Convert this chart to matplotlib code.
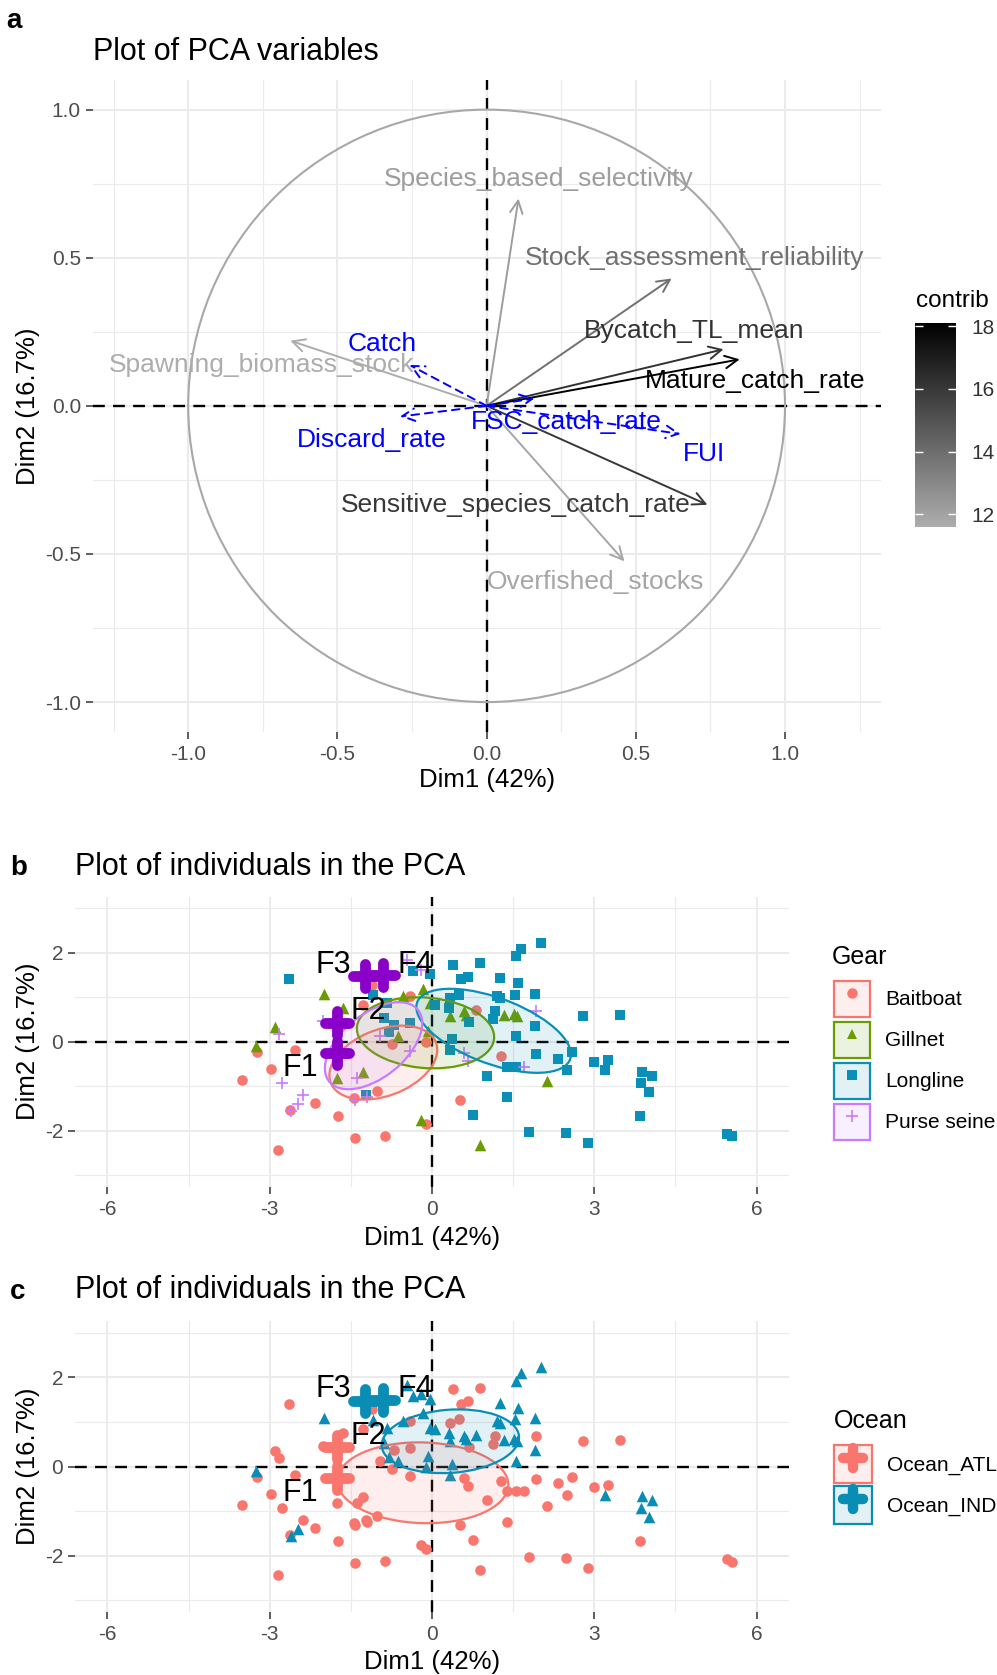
import numpy as np
import matplotlib
matplotlib.use("Agg")
import matplotlib.pyplot as plt
from matplotlib.patches import Ellipse, FancyArrowPatch, Patch, Circle
from matplotlib.lines import Line2D
from matplotlib.markers import MarkerStyle
from matplotlib.colors import LinearSegmentedColormap, Normalize, to_rgba
from matplotlib.legend_handler import HandlerTuple
from matplotlib.cm import ScalarMappable

plt.rcParams['font.family'] = ['Liberation Sans', 'DejaVu Sans']
plt.rcParams['axes.unicode_minus'] = False

# ---------------- panel a: variables ----------------
var_names = ["Species_based_selectivity", "Stock_assessment_reliability", "Bycatch_TL_mean",
             "Mature_catch_rate", "Spawning_biomass_stock", "Sensitive_species_catch_rate",
             "Overfished_stocks"]
var_dim1 = [0.107, 0.62, 0.794, 0.848, -0.658, 0.74, 0.462]
var_dim2 = [0.70, 0.43, 0.191, 0.157, 0.22, -0.334, -0.525]
var_contrib = [12.2, 13.9, 16.2, 18.1, 11.6, 16.0, 11.9]

sup_names = ["Catch", "Discard_rate", "FSC_catch_rate", "FUI"]
sup_dim1 = [-0.258, -0.29, 0.16, 0.65]
sup_dim2 = [0.138, -0.036, 0.025, -0.095]

# where the (repelled) labels sit
var_label_xy = [(0.176, 0.767), (0.696, 0.50), (0.696, 0.252), (0.90, 0.083),
                (-0.755, 0.137), (0.098, -0.335), (0.366, -0.595)]
sup_label_xy = [(-0.35, 0.21), (-0.386, -0.116), (0.266, -0.054), (0.73, -0.162)]

# ---------------- panels b, c: individuals ----------------
bb_x = [-3.24, -2.53, -2.98, -3.52, -2.16, -2.62, -1.73, -2.84, -1.42, -0.86, -1.45,
        -1.02, -1.28, -1.11, -0.40, -0.74, -0.11, 0.82, 1.28, 0.52, -0.12]
bb_y = [-0.24, -0.18, -0.62, -0.86, -1.38, -1.53, -1.67, -2.43, -2.17, -2.12, -1.27,
        -1.10, 0.83, 1.28, 1.03, -0.05, -0.01, 0.71, -0.32, -1.32, -1.85]
bb_ocean = "AAAAAAAAAAAAAAAAIIAAA"

gn_x = [-2.00, -2.90, -3.25, -1.76, -1.28, -1.64, -0.54, -0.62, -0.20, -0.16, -0.03,
        0.33, 0.59, 0.62, 1.33, 1.52, 1.57, 2.12, 0.88, -0.08]
gn_y = [1.08, 0.34, -0.09, -0.82, -0.69, 0.76, 1.02, 0.12, -1.76, 1.19, 0.87,
        0.57, 0.68, 0.61, 0.60, 0.62, 0.57, -0.89, -2.32, 0.23]
gn_ocean = "IAIAAAIIAIIIIIIIIAAI"

ll_x = [-2.64, -1.22, -0.35, -1.10, -0.83, -0.89, -0.71, -0.40, -0.80, 2.01,
        1.65, 1.56, 0.39, 0.88, -0.04, 0.54, 0.66, 1.25, 1.59, 0.49,
        0.34, 1.21, 1.26, 1.54, 1.90, 0.06, 0.31, 0.68, 1.17, 1.13,
        1.91, 2.79, 1.56, 0.37, 0.34, 1.93, 1.38, 1.56, 2.33, 2.58,
        2.50, 2.99, 1.01, 1.38, 0.75, 1.79, 2.48, 2.89, 3.47, 3.25,
        3.20, 3.88, 4.07, 3.86, 4.01, 3.84, 5.46, 5.54]
ll_y = [1.41, -1.19, 1.58, 1.05, 0.87, 0.53, 0.38, 0.42, 0.21, 2.22,
        2.09, 1.92, 1.73, 1.76, 1.52, 1.40, 1.46, 1.43, 1.32, 1.06,
        0.98, 1.03, 0.98, 1.06, 1.08, 0.83, 0.76, 0.44, 0.68, 0.50,
        0.36, 0.57, 0.12, 0.05, -0.18, -0.27, -0.56, -0.56, -0.38, -0.23,
        -0.63, -0.46, -0.76, -1.25, -1.64, -2.02, -2.06, -2.28, 0.59, -0.41,
        -0.63, -0.67, -0.76, -0.93, -1.13, -1.66, -2.07, -2.13]
ll_ocean = "AAIIIIAAII" "IIAAIAAIIA" "AIIIIIIAAA" "IAIIIAAAAA" "AAAAAAAAAA" "IIIIIAAA"

ps_x = [-2.82, -2.78, -2.38, -2.47, -2.60, -1.39, -1.43, -1.20, -2.01, -0.46, -0.20,
        -0.40, -0.96, 0.59, 0.66, 1.93, 1.70]
ps_y = [0.18, -0.92, -1.19, -1.40, -1.55, -0.82, -1.32, -1.24, 0.46, 1.83, 1.62,
        -0.22, 0.13, -0.25, -0.44, 0.68, -0.56]
ps_ocean = "AAAIIAAAAIIAAAAAA"

gears = ["Baitboat", "Gillnet", "Longline", "Purse seine"]
oceans = ["Ocean_ATL", "Ocean_IND"]

# supplementary individuals
fleet_names = ["F1", "F2", "F3", "F4"]
fleet_x = [-1.76, -1.76, -1.24, -0.90]
fleet_y = [-0.25, 0.43, 1.47, 1.49]
fleet_ocean = ["Ocean_ATL", "Ocean_ATL", "Ocean_IND", "Ocean_IND"]
fleet_label_xy = [(-2.44, -0.59), (-1.17, 0.68), (-1.82, 1.73), (-0.31, 1.73)]

# confidence ellipses: centre x, centre y, semi-axis a, semi-axis b, angle
gear_ell = {"Baitboat": (-0.90, -0.47, 1.08, 0.72, 31),
            "Gillnet": (-0.12, 0.20, 1.275, 0.79, -7),
            "Longline": (1.14, 0.245, 1.556, 0.718, -26.4),
            "Purse seine": (-1.08, -0.09, 1.16, 0.65, 49.6)}
ocean_ell = {"Ocean_ATL": (-0.17, -0.365, 1.582, 0.904, -2.4),
             "Ocean_IND": (0.34, 0.565, 1.274, 0.707, 5.6)}

# ---------------- styles ----------------
gear_col = {"Baitboat": "#F8766D", "Gillnet": "#6A9C00", "Longline": "#0A8FB8", "Purse seine": "#C77CFF"}
gear_mk = {"Baitboat": "o", "Gillnet": "^", "Longline": "s", "Purse seine": "+"}
gear_s = {"Baitboat": 58, "Gillnet": 70, "Longline": 52, "Purse seine": 80}
ocean_col = {"Ocean_ATL": "#F8766D", "Ocean_IND": "#0A8DB5"}
ocean_mk = {"Ocean_ATL": "o", "Ocean_IND": "^"}
ocean_s = {"Ocean_ATL": 58, "Ocean_IND": 70}
fleet_col_b = "#8A00C8"
GRID = "#EBEBEB"

W, H = 997, 1675
fig = plt.figure(figsize=(W / 100, H / 100), dpi=100)


def px_axes(l, t, r, b):
    return fig.add_axes([l / W, 1 - b / H, (r - l) / W, (b - t) / H])


def fy(y):
    return 1 - y / H


def style_axes(ax, xmaj, xmin, ymaj, ymin, fmt):
    for s in ax.spines.values():
        s.set_visible(False)
    ax.set_xticks(xmaj)
    ax.set_xticks(xmin, minor=True)
    ax.set_yticks(ymaj)
    ax.set_yticks(ymin, minor=True)
    ax.set_xticklabels([fmt(v) for v in xmaj])
    ax.set_yticklabels([fmt(v) for v in ymaj])
    ax.grid(which="major", color=GRID, lw=1.5)
    ax.grid(which="minor", color=GRID, lw=0.8)
    ax.set_axisbelow(True)
    ax.tick_params(which="major", length=5, width=1.1, color="#333333",
                   labelsize=15, labelcolor="#4D4D4D")
    ax.tick_params(axis="x", which="major", pad=4.5)
    ax.tick_params(axis="y", which="major", pad=3.5)
    ax.tick_params(which="minor", length=0)
    ax.axhline(0, color="black", lw=1.7, ls=(0, (5, 3.5)), zorder=2)
    ax.axvline(0, color="black", lw=1.7, ls=(0, (5, 3.5)), zorder=2)


# ================= panel a =================
ax_a = px_axes(92.7, 80, 880.5, 731.7)
ax_a.set_xlim(-1.32, 1.32)
ax_a.set_ylim(-1.1, 1.1)
style_axes(ax_a, [-1, -0.5, 0, 0.5, 1], [-1.25, -0.75, -0.25, 0.25, 0.75, 1.25],
           [-1, -0.5, 0, 0.5, 1], [-0.75, -0.25, 0.25, 0.75], lambda v: "%.1f" % v)
ax_a.add_patch(Circle((0, 0), 1, fill=False, ec="#A8A8A8", lw=1.5, zorder=2.5))

cmap = LinearSegmentedColormap.from_list("contrib", ["#ADADAD", "#000000"])
norm = Normalize(min(var_contrib), max(var_contrib))

for name, x, y, c, (lx, ly) in zip(var_names, var_dim1, var_dim2, var_contrib, var_label_xy):
    col = cmap(norm(c))
    ax_a.add_patch(FancyArrowPatch((0, 0), (x, y), arrowstyle="->,head_length=0.6,head_width=0.3",
                                   mutation_scale=15, lw=1.4, color=col, shrinkA=0, shrinkB=0, zorder=4))
    ax_a.text(lx, ly, name, color=col, fontsize=19, ha="center", va="center", zorder=6)

for name, x, y, (lx, ly) in zip(sup_names, sup_dim1, sup_dim2, sup_label_xy):
    ax_a.add_patch(FancyArrowPatch((0, 0), (x, y), arrowstyle="->,head_length=0.6,head_width=0.3",
                                   mutation_scale=15, lw=1.4, color="#0000FF", ls=(0, (4, 3)),
                                   shrinkA=0, shrinkB=0, zorder=4))
    ax_a.text(lx, ly, name, color="#0000FF", fontsize=19, ha="center", va="center", zorder=6)

fig.text(6 / W, fy(28), "a", fontsize=20, fontweight="bold", va="baseline")
fig.text(93 / W, fy(60), "Plot of PCA variables", fontsize=22, va="baseline")
fig.text(486.6 / W, fy(787), "Dim1 (42%)", fontsize=18.5, ha="center", va="baseline")
fig.text(28 / W, fy(406), "Dim2 (16.7%)", fontsize=18.5, ha="center", va="center", rotation=90)

# colour bar
cax = px_axes(915, 323, 956, 527)
cb = fig.colorbar(ScalarMappable(norm=norm, cmap=cmap), cax=cax, ticks=[12, 14, 16, 18])
cb.outline.set_visible(False)
cax.minorticks_off()
cax.yaxis.set_ticks_position("both")
cax.tick_params(axis="y", direction="in", length=6, width=1, color="white",
                labelsize=15, labelcolor="#333333", pad=11, labelleft=False, labelright=True)
fig.text(916 / W, fy(307), "contrib", fontsize=17.5, va="baseline")

# ================= panels b and c =================
gear_data = {"Baitboat": (bb_x, bb_y, bb_ocean), "Gillnet": (gn_x, gn_y, gn_ocean),
             "Longline": (ll_x, ll_y, ll_ocean), "Purse seine": (ps_x, ps_y, ps_ocean)}


def ind_axes(top, bottom):
    ax = px_axes(75, top, 789, bottom)
    ax.set_xlim(-6.6, 6.6)
    ax.set_ylim(-3.26, 3.26)
    style_axes(ax, [-6, -3, 0, 3, 6], [-4.5, -1.5, 1.5, 4.5], [-2, 0, 2], [-3, -1, 1, 3],
               lambda v: "%d" % v)
    return ax


def draw_fleets(ax, colors):
    cross = MarkerStyle("+", capstyle="round")
    for x, y, c in zip(fleet_x, fleet_y, colors):
        ax.plot([x], [y], ls="", marker=cross, ms=17, mew=7.8, color=c, zorder=5)
    for name, (lx, ly) in zip(fleet_names, fleet_label_xy):
        ax.text(lx, ly, name, fontsize=22, ha="center", va="center", zorder=6)


# ---- panel b: by gear ----
ax_b = ind_axes(896.7, 1186.7)
for g in gears:
    xs, ys, _ = gear_data[g]
    if gear_mk[g] == "+":
        ax_b.scatter(xs, ys, marker="+", s=gear_s[g], color=gear_col[g], linewidths=1.2, zorder=3)
    else:
        ax_b.scatter(xs, ys, marker=gear_mk[g], s=gear_s[g], color=gear_col[g], linewidths=0, zorder=3)
for g in gears:
    cx, cy, a, b, ang = gear_ell[g]
    ax_b.add_patch(Ellipse((cx, cy), 2 * a, 2 * b, angle=ang, fc=to_rgba(gear_col[g], 0.12),
                           ec=gear_col[g], lw=1.6, zorder=4))
draw_fleets(ax_b, [fleet_col_b] * 4)

fig.text(10 / W, fy(875), "b", fontsize=20, fontweight="bold", va="baseline")
fig.text(75 / W, fy(875), "Plot of individuals in the PCA", fontsize=22, va="baseline")
fig.text(432 / W, fy(1245), "Dim1 (42%)", fontsize=18.5, ha="center", va="baseline")
fig.text(28 / W, fy(1041.7), "Dim2 (16.7%)", fontsize=18.5, ha="center", va="center", rotation=90)

handles_b = []
for g in gears:
    box = Patch(fc=to_rgba(gear_col[g], 0.12), ec=gear_col[g], lw=1.6)
    mk = Line2D([], [], ls="", marker=gear_mk[g], color=gear_col[g],
                ms=7.5 if gear_mk[g] != "+" else 9, mew=0 if gear_mk[g] != "+" else 1.2)
    handles_b.append((box, mk))
ax_b.legend(handles_b, gears, loc="upper left", bbox_to_anchor=(834 / W, fy(981)),
            bbox_transform=fig.transFigure, frameon=False, fontsize=15,
            handlelength=1.73, handleheight=2.286, labelspacing=0.23, handletextpad=0.72,
            borderpad=0, borderaxespad=0, handler_map={tuple: HandlerTuple(ndivide=1)})
fig.text(832 / W, fy(964), "Gear", fontsize=18, va="baseline")

# ---- panel c: by ocean ----
ax_c = ind_axes(1321, 1612)
for o in oceans:
    code = o[-3]
    xs, ys = [], []
    for g in gears:
        gx, gy, go = gear_data[g]
        for x, y, k in zip(gx, gy, go):
            if k == code:
                xs.append(x)
                ys.append(y)
    ax_c.scatter(xs, ys, marker=ocean_mk[o], s=ocean_s[o], color=ocean_col[o], linewidths=0, zorder=3)
for o in oceans:
    cx, cy, a, b, ang = ocean_ell[o]
    ax_c.add_patch(Ellipse((cx, cy), 2 * a, 2 * b, angle=ang, fc=to_rgba(ocean_col[o], 0.12),
                           ec=ocean_col[o], lw=1.6, zorder=4))
draw_fleets(ax_c, [ocean_col[o] for o in fleet_ocean])

fig.text(10 / W, fy(1299), "c", fontsize=20, fontweight="bold", va="baseline")
fig.text(75 / W, fy(1298), "Plot of individuals in the PCA", fontsize=22, va="baseline")
fig.text(432 / W, fy(1669), "Dim1 (42%)", fontsize=18.5, ha="center", va="baseline")
fig.text(28 / W, fy(1466.5), "Dim2 (16.7%)", fontsize=18.5, ha="center", va="center", rotation=90)

handles_c = []
for o in oceans:
    box = Patch(fc=to_rgba(ocean_col[o], 0.12), ec=ocean_col[o], lw=1.6)
    mk = Line2D([], [], ls="", marker=MarkerStyle("+", capstyle="round"), color=ocean_col[o],
                ms=15, mew=7.5)
    handles_c.append((box, mk))
ax_c.legend(handles_c, oceans, loc="upper left", bbox_to_anchor=(834 / W, fy(1445)),
            bbox_transform=fig.transFigure, frameon=False, fontsize=15,
            handlelength=1.83, handleheight=2.434, labelspacing=0.145, handletextpad=0.72,
            borderpad=0, borderaxespad=0, handler_map={tuple: HandlerTuple(ndivide=1)})
fig.text(834 / W, fy(1428), "Ocean", fontsize=18, va="baseline")

fig.savefig("out.png", dpi=100)
